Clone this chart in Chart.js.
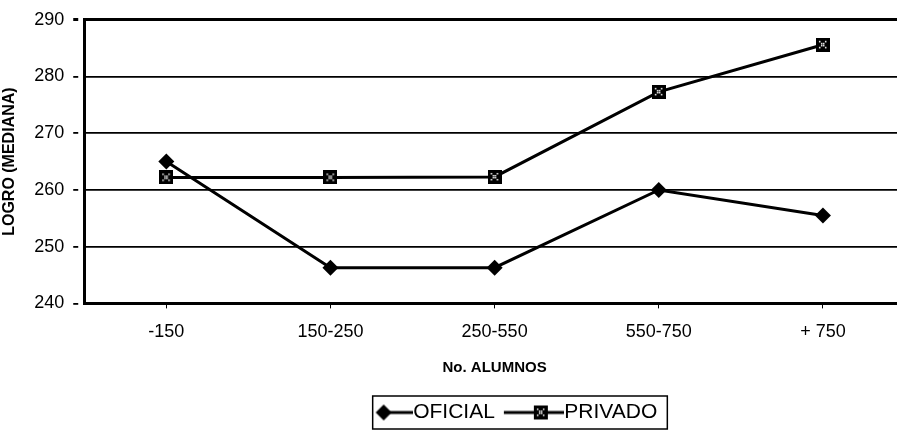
<!DOCTYPE html>
<html>
<head>
<meta charset="utf-8">
<script src="https://cdn.jsdelivr.net/npm/chart.js@4"></script>
<style>
  body { margin: 0; background: #fff; overflow: hidden; }
</style>
</head>
<body>
<canvas id="myChart" width="916" height="431"></canvas>
<script>
// data
const categories = ['-150', '150-250', '250-550', '550-750', '+ 750'];
const oficial = [265, 246.3, 246.3, 260, 255.5];
const privado = [262.2, 262.2, 262.3, 277.3, 285.6];
const yTicks = [240, 250, 260, 270, 280, 290];

// black square marker with a little white dotted x inside
function squareMarker(size) {
  const c = document.createElement('canvas');
  c.width = size;
  c.height = size;
  const g = c.getContext('2d');
  g.fillStyle = '#000';
  g.fillRect(0, 0, size, size);
  g.fillStyle = '#fff';
  const m = Math.floor(size / 2);
  [[-3, -3], [3, -3], [-1, -1], [1, 1], [-3, 3], [3, 3], [1, -1], [-1, 1]].forEach(p => {
    g.fillRect(m + p[0] - 1, m + p[1] - 1, 1.5, 1.5);
  });
  return c;
}

// legend samples (70px canvas, right end touches the text)
function legendSample(kind) {
  const c = document.createElement('canvas');
  c.width = 70;
  c.height = 18;
  const g = c.getContext('2d');
  g.strokeStyle = '#000';
  g.lineWidth = 3;
  g.beginPath();
  if (kind === 'diamond') {
    const cx = 41;
    g.moveTo(cx, 9);
    g.lineTo(70, 9);
    g.stroke();
    g.fillStyle = '#000';
    g.beginPath();
    g.moveTo(cx, 1);
    g.lineTo(cx + 8, 9);
    g.lineTo(cx, 17);
    g.lineTo(cx - 8, 9);
    g.closePath();
    g.fill();
  } else {
    g.moveTo(10, 9);
    g.lineTo(70, 9);
    g.stroke();
    g.drawImage(squareMarker(14), 40, 2);
  }
  return c;
}

const squareImg = squareMarker(14);
const legendImgs = [legendSample('diamond'), legendSample('square')];
const legendCenter = 505;

// move the legend a bit to the right, then box it
const legendBorder = {
  id: 'legendBorder',
  afterLayout(chart) {
    const lg = chart.legend;
    const dx = legendCenter - (lg.left + lg.right) / 2;
    lg.left += dx;
    lg.right += dx;
  },
  afterDraw(chart) {
    const boxes = chart.legend.legendHitBoxes;
    if (!boxes || !boxes.length) return;
    let l = Infinity, r = -Infinity, t = Infinity, b = -Infinity;
    boxes.forEach(h => {
      l = Math.min(l, h.left);
      r = Math.max(r, h.left + h.width);
      t = Math.min(t, h.top);
      b = Math.max(b, h.top + h.height);
    });
    const ctx = chart.ctx;
    ctx.save();
    ctx.strokeStyle = '#000';
    ctx.lineWidth = 1.5;
    ctx.strokeRect(l + 20, t - 6, r - l - 10, b - t + 12);
    ctx.restore();
  }
};

const myChart = document.getElementById('myChart');

let lineChart = new Chart(myChart, {
  type: 'line',
  data: {
    labels: categories,
    datasets: [
      {
        label: 'OFICIAL',
        data: oficial,
        borderColor: '#000',
        backgroundColor: '#000',
        borderWidth: 3,
        pointStyle: 'rectRot',
        pointRadius: 8,
        pointBorderWidth: 0
      },
      {
        label: 'PRIVADO',
        data: privado,
        borderColor: '#000',
        backgroundColor: '#000',
        borderWidth: 3,
        pointStyle: squareImg,
        pointRadius: 8
      }
    ]
  },
  plugins: [legendBorder],
  options: {
    responsive: false,
    animation: false,
    layout: { padding: { top: 8, left: 0, right: 0, bottom: -2 } },
    scales: {
      x: {
        offset: true,
        grid: { display: true, drawOnChartArea: false, color: '#000', lineWidth: 1, tickLength: 5 },
        border: { display: true, color: '#000', width: 3 },
        ticks: { color: '#000', font: { family: 'Arial, "Liberation Sans"', size: 18 }, padding: 13 },
        title: {
          display: true,
          text: 'No. ALUMNOS',
          color: '#000',
          font: { family: 'Arial, "Liberation Sans"', size: 15, weight: 'bold' },
          padding: { top: 3, bottom: 16 }
        }
      },
      y: {
        min: 240,
        max: 290,
        afterBuildTicks: scale => { scale.ticks = yTicks.map(v => ({ value: v })); },
        grid: {
          color: '#000',
          lineWidth: ctx => (ctx.tick && ctx.tick.value === 290 ? 3 : 1.8),
          tickLength: 11,
          // only the 5px next to the axis shows
          tickBorderDash: [5, 100]
        },
        border: { display: true, color: '#000', width: 3 },
        ticks: { color: '#000', font: { family: 'Arial, "Liberation Sans"', size: 18 }, padding: 9 },
        title: {
          display: true,
          text: 'LOGRO (MEDIANA)',
          color: '#000',
          font: { family: 'Arial, "Liberation Sans"', size: 16, weight: 'bold' },
          padding: { top: 0, bottom: 6 }
        }
      }
    },
    plugins: {
      tooltip: { enabled: false },
      legend: {
        position: 'bottom',
        labels: {
          color: '#000',
          font: { family: 'Arial, "Liberation Sans"', size: 21 },
          usePointStyle: true,
          pointStyleWidth: 50,
          padding: 9,
          generateLabels: chart => {
            const items = Chart.defaults.plugins.legend.labels.generateLabels(chart);
            items.forEach((it, i) => { it.pointStyle = legendImgs[i]; });
            return items;
          }
        }
      }
    }
  }
});
</script>
</body>
</html>
